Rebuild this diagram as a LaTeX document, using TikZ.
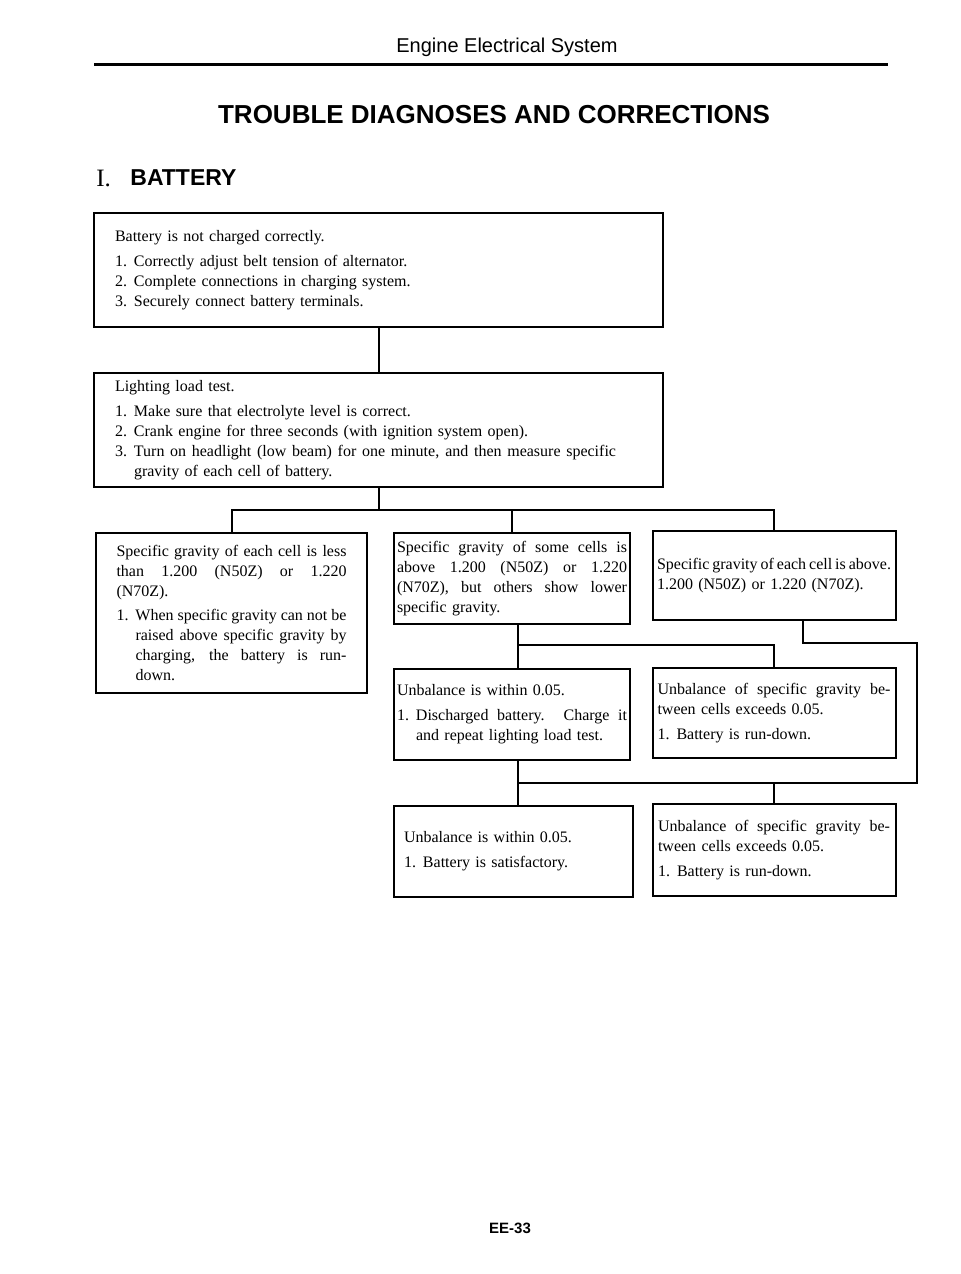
\documentclass[tikz,border=0pt]{standalone}
\usepackage{fontspec}
\setmainfont{Liberation Serif}
\setsansfont{Liberation Sans}
\setlength\parindent{0pt}
\newlength\hng
\setlength\hng{9.5pt}
% spread lines and hanging items
\newcommand\sprd[2][\hsize]{\makebox[#1][s]{\spaceskip=0pt\xspaceskip=0pt #2}}
\newcommand\itm[2]{\makebox[\hng][l]{#1}#2}
\newcommand\itms[2]{\makebox[\hng][l]{#1}\sprd[\dimexpr\hsize-\hng\relax]{#2}}
\newcommand\cont[1]{\hspace*{\hng}#1}
\newcommand\conts[1]{\hspace*{\hng}\sprd[\dimexpr\hsize-\hng\relax]{#1}}

\tikzset{
  diagbox/.style n args={3}{draw, line width=1pt, minimum width=#1, minimum height=#2,
    text width=#3, inner xsep=0pt, inner ysep=2pt,
    font=\fontsize{8pt}{10pt}\selectfont},
  conn/.style={line width=1pt}
}

\begin{document}
\begin{tikzpicture}[x=0.5pt,y=-0.5pt]
  \useasboundingbox (0,0) rectangle (960,1274);
  % page head
  \node[font=\sffamily\fontsize{10pt}{12pt}\selectfont] (head) at (507,47) {Engine Electrical System};
  \draw[line width=1.5pt] (94,64) -- (888,64);
  \node[font=\sffamily\bfseries\fontsize{13pt}{15pt}\selectfont] (title) at (494,115) {TROUBLE DIAGNOSES AND CORRECTIONS};
  \node[anchor=west, inner sep=0pt, font=\fontsize{12.5pt}{14pt}\selectfont] (secno) at (96,178) {I.};
  \node[anchor=west, inner sep=0pt, font=\sffamily\bfseries\fontsize{11.5pt}{14pt}\selectfont] (sect) at (130,178) {BATTERY};
  % boxes
  \node[diagbox={284.5pt}{57pt}{263.5pt}] (b1) at (378.5,270) {%
    Battery is not charged correctly.\\[2.5pt]
    \itm{1.}{Correctly adjust belt tension of alternator.}\\
    \itm{2.}{Complete connections in charging system.}\\
    \itm{3.}{Securely connect battery terminals.}};
  \node[diagbox={284.5pt}{57pt}{263.5pt}] (b2) at (378.5,430) {%
    Lighting load test.\\[2.5pt]
    \itm{1.}{Make sure that electrolyte level is correct.}\\
    \itm{2.}{Crank engine for three seconds (with ignition system open).}\\
    \itm{3.}{\sprd[241pt]{Turn on headlight (low beam) for one minute, and then measure specific}}\\
    \cont{gravity of each cell of battery.}};
  \node[diagbox={135.5pt}{80pt}{115pt}] (b3) at (231.5,613) {%
    \sprd{Specific gravity of each cell is less}\\
    \sprd{than 1.200 (N50Z) or 1.220}\\
    (N70Z).\\[2pt]
    \itms{1.}{When specific gravity can not be}\\
    \conts{raised above specific gravity by}\\
    \conts{charging, the battery is run-}\\
    \cont{down.}};
  \node[diagbox={118pt}{45.5pt}{115pt}] (b4) at (512,578.5) {%
    \sprd{Specific gravity of some cells is}\\
    \sprd{above 1.200 (N50Z) or 1.220}\\
    \sprd{(N70Z), but others show lower}\\
    specific gravity.};
  \node[diagbox={121.5pt}{44.5pt}{117pt}] (b5) at (774,575.5) {%
    \sprd{Specific gravity of each cell is above.}\\
    1.200 (N50Z) or 1.220 (N70Z).};
  \node[diagbox={118pt}{45.5pt}{115pt}] (b6) at (512,714.5) {%
    Unbalance is within 0.05.\\[2.5pt]
    \itms{1.}{Discharged battery. Charge it}\\
    \cont{and repeat lighting load test.}};
  \node[diagbox={121.5pt}{45pt}{116.5pt}] (b7) at (774,713) {%
    \sprd{Unbalance of specific gravity be-}\\
    tween cells exceeds 0.05.\\[2.5pt]
    \itm{1.}{Battery is run-down.}};
  \node[diagbox={119.5pt}{45.5pt}{109.5pt}] (b8) at (513.5,851.5) {%
    Unbalance is within 0.05.\\[2.5pt]
    \itm{1.}{Battery is satisfactory.}\\[10pt]};
  \node[diagbox={121.5pt}{46pt}{116pt}] (b9) at (774,850) {%
    \sprd{Unbalance of specific gravity be-}\\
    tween cells exceeds 0.05.\\[2.5pt]
    \itm{1.}{Battery is run-down.}};
  % page number
  \node[font=\sffamily\bfseries\fontsize{7.5pt}{9pt}\selectfont] (page) at (510,1228) {EE-33};
  % connectors
  \coordinate (cm) at (518,0);
  \coordinate (cr) at (803,0);
  \coordinate (ce) at (917,0);
  \coordinate (t1) at (0,510);
  \coordinate (t2) at (0,645);
  \coordinate (t3) at (0,643);
  \coordinate (t4) at (0,783);
  \draw[conn]
    (b1) -- (b2)
    (b2.south) -- (b2.south |- t1)
    (b3.north) |- (b5.north |- t1) -- (b5.north)
    (b4.north) -- (b4.north |- t1)
    (b4.south -| cm) -- (b6.north -| cm)
    (cm |- t2) -| (b7.north)
    (b6.south -| cm) -- (b8.north -| cm)
    (b5.south -| cr) |- (ce |- t3) |- (cm |- t4)
    (b9.north) -- (b9.north |- t4)
    ;
\end{tikzpicture}
\end{document}
